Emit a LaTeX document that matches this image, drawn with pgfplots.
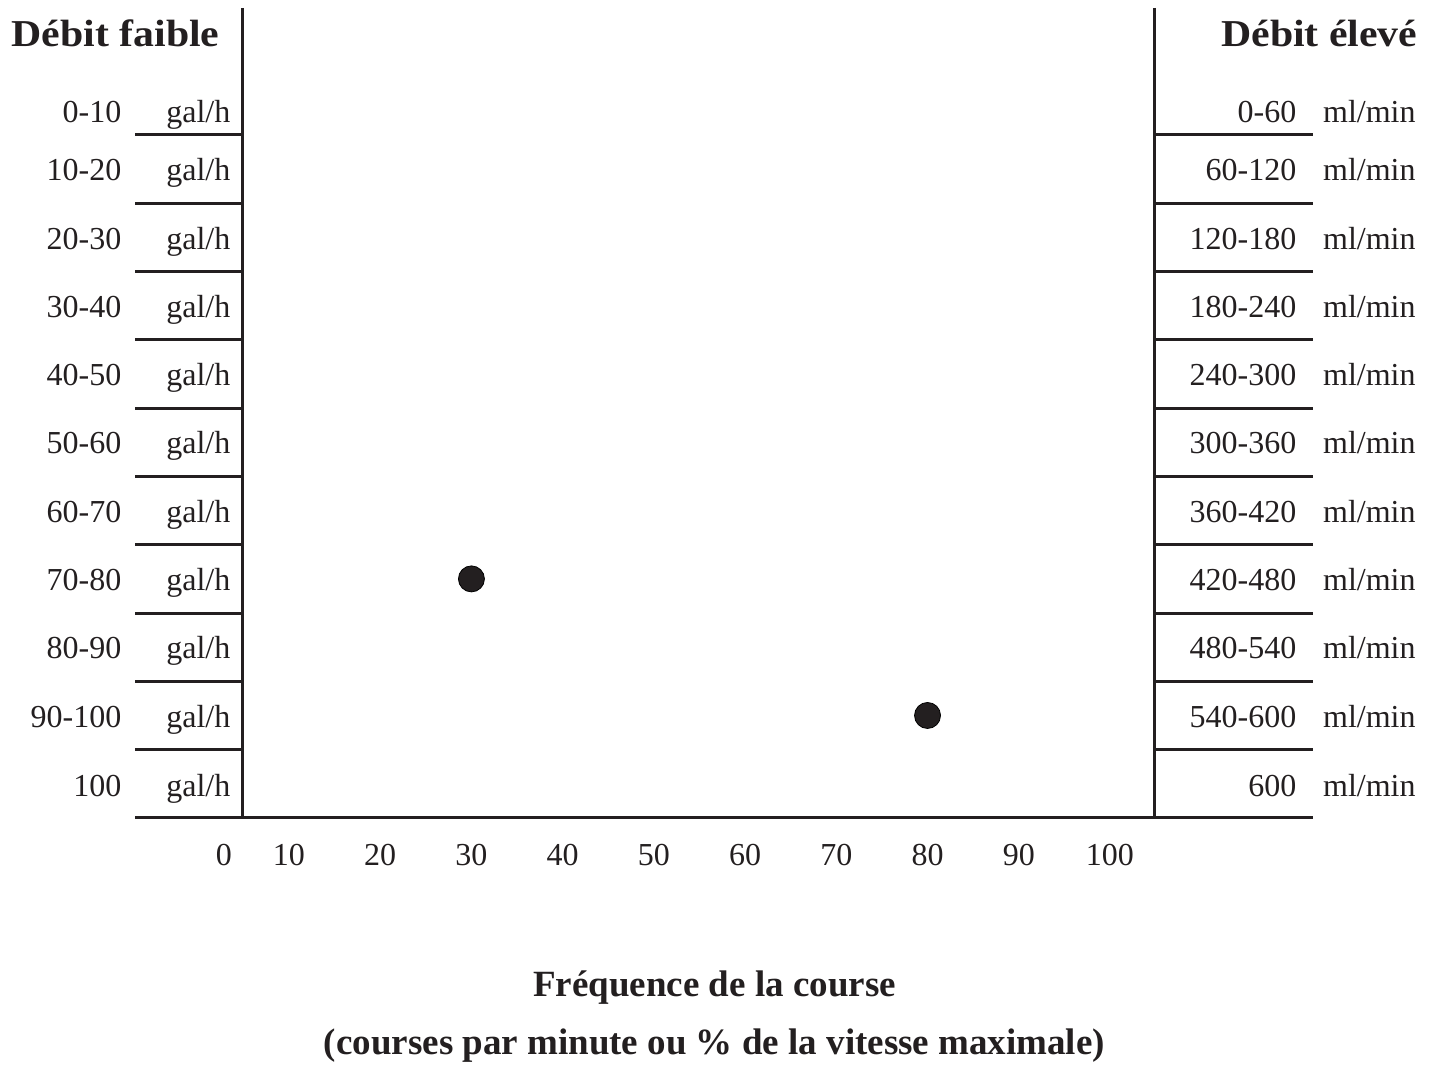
\documentclass[border=0pt]{standalone}
\usepackage{fontspec}
\setmainfont{Liberation Serif}
\newfontfamily\headfont[FakeStretch=1.1]{Liberation Serif}
\usepackage{pgfplots}
\usepackage{pgfplotstable}
\pgfplotsset{compat=1.18}
\definecolor{ink}{HTML}{231F20}

\pgfplotstableread{
x y
30 7
80 9
}\pts

\begin{document}
\begin{tikzpicture}[
  lab/.style={inner sep=0pt, font=\fontsize{16}{19}\selectfont, text=ink},
  head/.style={inner sep=0pt, font=\headfont\fontsize{19}{23}\selectfont\bfseries, text=ink},
  foot/.style={inner sep=0pt, font=\fontsize{18.5}{22}\selectfont\bfseries, text=ink, anchor=base},
]
\begin{axis}[
  scale only axis, width=456.5pt, height=405pt,
  xmin=4.85, xmax=104.93, ymin=-1.36, ymax=10.5, y dir=reverse,
  clip=false,
  axis line style={draw=none},
  ytick=\empty,
  xtick={10,20,...,100},
  xticklabels={10,20,30,40,50,60,70,80,90,100},
  major tick length=0pt,
  xticklabel style={anchor=base, yshift=-23.6pt, inner sep=0pt,
    font=\fontsize{16}{19}\selectfont, text=ink},
]
% invisible frame giving the picture its proportions
\path (axis cs:-21.68,-1.4766) rectangle (axis cs:135.74,14.117);

% frame lines
\draw[ink, line width=1.5pt] (axis cs:4.85,-1.36) -- (axis cs:4.85,10.5);
\draw[ink, line width=1.5pt] (axis cs:104.93,-1.36) -- (axis cs:104.93,10.5);
\draw[ink, line width=1.5pt] (axis cs:-6.88,10.5) -- (axis cs:122.22,10.5);
\pgfplotsinvokeforeach{0.5,1.5,2.5,3.5,4.5,5.5,6.5,7.5,8.5,9.5}{
  \draw[ink, line width=1.5pt] (axis cs:-6.88,#1) -- (axis cs:4.85,#1);
  \draw[ink, line width=1.5pt] (axis cs:104.93,#1) -- (axis cs:122.22,#1);
}

% headings
\node[head, anchor=base east] at (axis cs:2.43,-0.79) {Débit faible};
\node[head, anchor=base east] at (axis cs:133.75,-0.79) {Débit élevé};

% left rows
\node[lab, anchor=base east] at (axis cs:-8.34,0.32) {0-10};
\node[lab, anchor=base east] at (axis cs:-8.34,1.17) {10-20};
\node[lab, anchor=base east] at (axis cs:-8.34,2.17) {20-30};
\node[lab, anchor=base east] at (axis cs:-8.34,3.17) {30-40};
\node[lab, anchor=base east] at (axis cs:-8.34,4.17) {40-50};
\node[lab, anchor=base east] at (axis cs:-8.34,5.17) {50-60};
\node[lab, anchor=base east] at (axis cs:-8.34,6.17) {60-70};
\node[lab, anchor=base east] at (axis cs:-8.34,7.17) {70-80};
\node[lab, anchor=base east] at (axis cs:-8.34,8.17) {80-90};
\node[lab, anchor=base east] at (axis cs:-8.34,9.17) {90-100};
\node[lab, anchor=base east] at (axis cs:-8.34,10.19) {100};
\pgfplotsinvokeforeach{1.17,2.17,3.17,4.17,5.17,6.17,7.17,8.17,9.17}{
  \node[lab, anchor=base east] at (axis cs:3.61,#1) {gal/h};
  \node[lab, anchor=base west] at (axis cs:123.32,#1) {ml/min};
}
\node[lab, anchor=base east] at (axis cs:3.61,0.32) {gal/h};
\node[lab, anchor=base east] at (axis cs:3.61,10.19) {gal/h};
\node[lab, anchor=base west] at (axis cs:123.32,0.32) {ml/min};
\node[lab, anchor=base west] at (axis cs:123.32,10.19) {ml/min};

% right rows
\node[lab, anchor=base east] at (axis cs:120.47,0.32) {0-60};
\node[lab, anchor=base east] at (axis cs:120.47,1.17) {60-120};
\node[lab, anchor=base east] at (axis cs:120.47,2.17) {120-180};
\node[lab, anchor=base east] at (axis cs:120.47,3.17) {180-240};
\node[lab, anchor=base east] at (axis cs:120.47,4.17) {240-300};
\node[lab, anchor=base east] at (axis cs:120.47,5.17) {300-360};
\node[lab, anchor=base east] at (axis cs:120.47,6.17) {360-420};
\node[lab, anchor=base east] at (axis cs:120.47,7.17) {420-480};
\node[lab, anchor=base east] at (axis cs:120.47,8.17) {480-540};
\node[lab, anchor=base east] at (axis cs:120.47,9.17) {540-600};
\node[lab, anchor=base east] at (axis cs:120.47,10.19) {600};

% zero tick label (offset to the left of the frame)
\node[lab, anchor=base] at (axis cs:2.87,11.19) {0};

% axis title
\node[foot] at (axis cs:56.64,13.11) {Fréquence de la course};
\node[foot] at (axis cs:56.64,13.97) {(courses par minute ou \% de la vitesse maximale)};

% data
\addplot[only marks, mark=*, mark size=6.5pt, mark options={fill=ink, draw=none}] table[x=x, y=y] {\pts};
\end{axis}
\end{tikzpicture}
\end{document}
